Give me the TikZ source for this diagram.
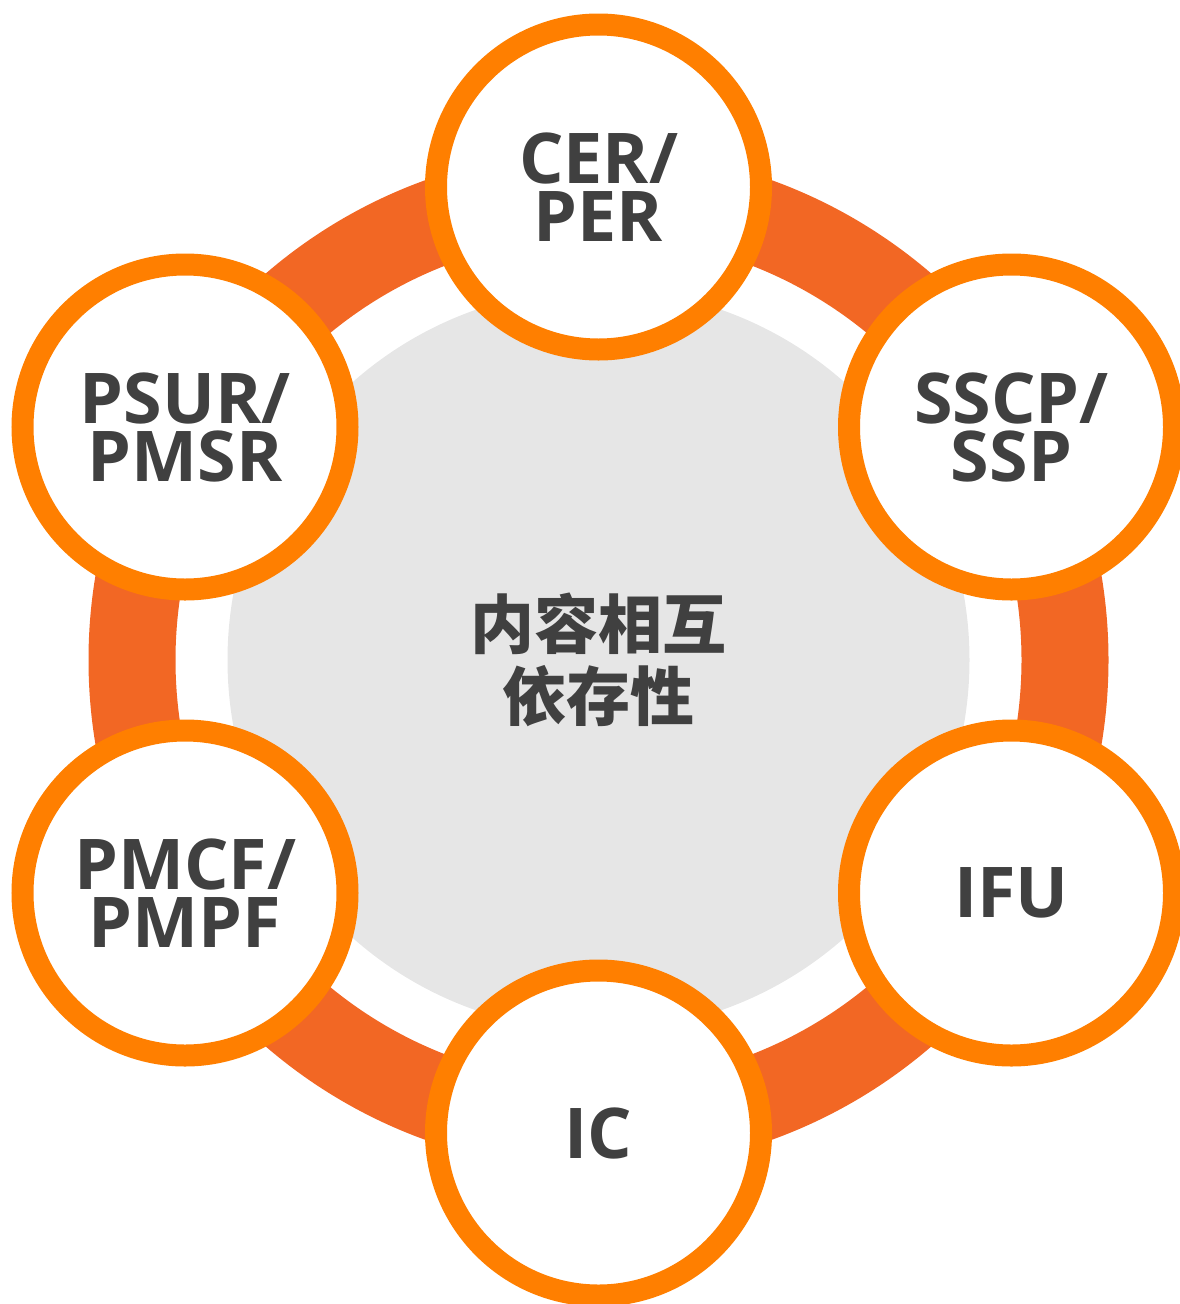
\documentclass[tikz,border=0pt]{standalone}
\usepackage{fontspec}
\usepackage{xcolor}
\setmainfont{Open Sans}
\newfontfamily\cjk{Noto Sans CJK SC}
\definecolor{ringOrange}{HTML}{F26724}
\definecolor{docOrange}{HTML}{FF7F00}
\definecolor{hubGray}{HTML}{E6E6E6}
\definecolor{txtGray}{HTML}{404040}
\tikzset{
  docnode/.style = {circle, draw=docOrange, line width=22pt, fill=white,
    minimum size=325pt, inner sep=0pt, align=center, text=txtGray,
    font=\bfseries\fontsize{70}{58}\selectfont},% small document circle
  hubnode/.style = {circle, fill=hubGray, minimum size=742pt, inner sep=0pt,
    align=center, text=txtGray,
    font=\cjk\bfseries\fontsize{64}{72}\selectfont},% centre disc
  ringline/.style = {draw=ringOrange, line width=87pt}
}

\begin{document}
\begin{tikzpicture}[x=1pt, y=-1pt]
  \useasboundingbox (0,0) rectangle (1179,1304);
  % ring behind everything
  \draw [ringline] (598.5,660) circle (466.5);
  \node [hubnode] (hub) at (598.5,660) {内容相互\\依存性};
  % documents round the ring
  \node [docnode] (cer)  at (598.5,187)  {CER/\\PER};
  \node [docnode] (sscp) at (1011.5,427) {SSCP/\\SSP};
  \node [docnode] (ifu)  at (1011.5,893) {IFU};
  \node [docnode] (ic)   at (598.5,1133) {IC};
  \node [docnode] (pmcf) at (185,893)    {PMCF/\\PMPF};
  \node [docnode] (psur) at (185,427)    {PSUR/\\PMSR};
\end{tikzpicture}
\end{document}
